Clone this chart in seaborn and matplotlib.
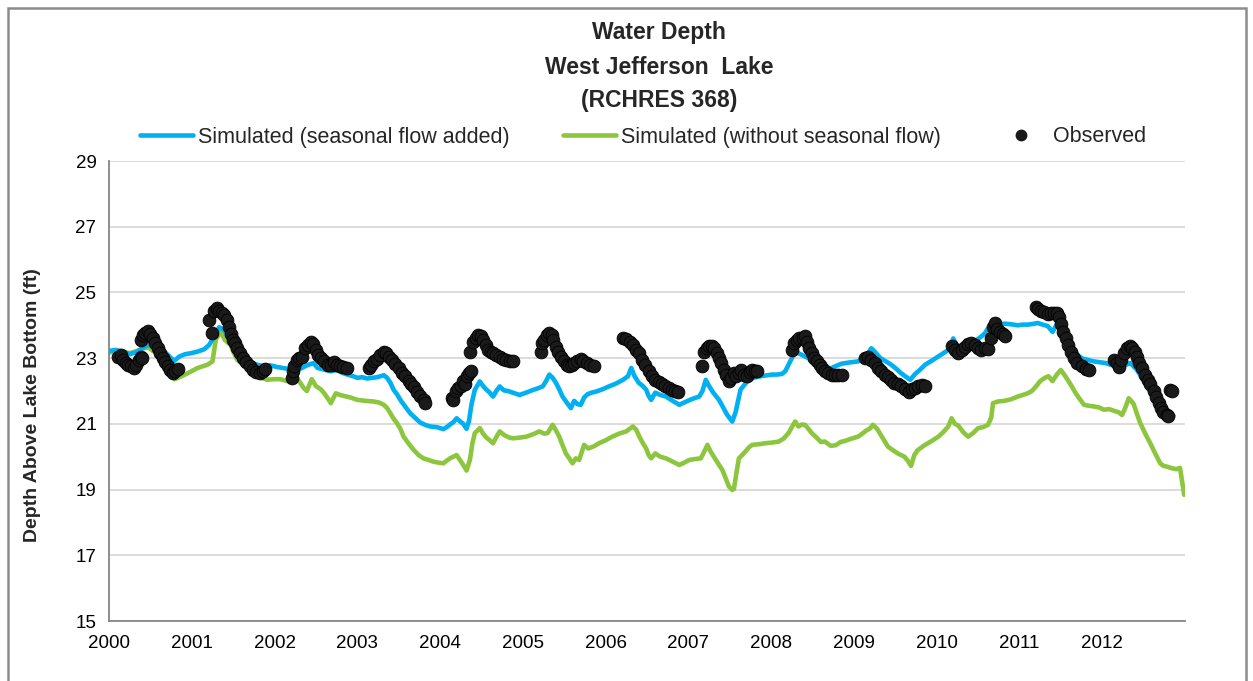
import matplotlib
matplotlib.use("Agg")
import matplotlib.pyplot as plt
from matplotlib.lines import Line2D
from matplotlib.patches import Rectangle
import seaborn as sns
import pandas as pd

# ---------------- data ----------------
added_year = [2000.00, 2000.08, 2000.17, 2000.25, 2000.33, 2000.40, 2000.47, 2000.55, 2000.62, 2000.69,
              2000.75, 2000.79, 2000.85, 2000.92, 2000.99, 2001.07, 2001.15, 2001.21, 2001.27, 2001.33,
              2001.39, 2001.47, 2001.53, 2001.59, 2001.65, 2001.71, 2001.79, 2001.87, 2001.95, 2002.03,
              2002.10, 2002.15, 2002.22, 2002.27, 2002.33, 2002.39, 2002.47, 2002.52, 2002.60, 2002.68,
              2002.75, 2002.82, 2002.88, 2002.95, 2003.00, 2003.06, 2003.12, 2003.18, 2003.24, 2003.32,
              2003.36, 2003.40, 2003.44, 2003.48, 2003.52, 2003.58, 2003.64, 2003.70, 2003.76, 2003.82,
              2003.88, 2003.96, 2004.04, 2004.08, 2004.12, 2004.16, 2004.20, 2004.24, 2004.28, 2004.32,
              2004.35, 2004.38, 2004.42, 2004.48, 2004.52, 2004.56, 2004.60, 2004.64, 2004.68, 2004.72,
              2004.77, 2004.82, 2004.88, 2004.96, 2005.04, 2005.12, 2005.18, 2005.24, 2005.28, 2005.32,
              2005.36, 2005.40, 2005.44, 2005.48, 2005.53, 2005.58, 2005.62, 2005.66, 2005.70, 2005.74,
              2005.78, 2005.83, 2005.88, 2005.96, 2006.04, 2006.12, 2006.21, 2006.27, 2006.31, 2006.35,
              2006.40, 2006.45, 2006.49, 2006.52, 2006.55, 2006.60, 2006.66, 2006.73, 2006.81, 2006.89,
              2006.95, 2007.01, 2007.07, 2007.13, 2007.17, 2007.21, 2007.25, 2007.30, 2007.37, 2007.42,
              2007.47, 2007.53, 2007.57, 2007.60, 2007.63, 2007.68, 2007.73, 2007.79, 2007.85, 2007.93,
              2008.01, 2008.07, 2008.13, 2008.17, 2008.21, 2008.25, 2008.29, 2008.33, 2008.37, 2008.45,
              2008.51, 2008.57, 2008.62, 2008.65, 2008.73, 2008.80, 2008.85, 2008.95, 2009.05, 2009.12,
              2009.17, 2009.21, 2009.25, 2009.32, 2009.40, 2009.45, 2009.51, 2009.57, 2009.62, 2009.68,
              2009.74, 2009.80, 2009.86, 2009.94, 2010.02, 2010.08, 2010.14, 2010.18, 2010.20, 2010.24,
              2010.30, 2010.36, 2010.42, 2010.48, 2010.54, 2010.58, 2010.62, 2010.68, 2010.75, 2010.82,
              2010.90, 2010.98, 2011.04, 2011.10, 2011.16, 2011.22, 2011.28, 2011.34, 2011.40, 2011.45,
              2011.50, 2011.54, 2011.58, 2011.62, 2011.67, 2011.72, 2011.77, 2011.82, 2011.90, 2011.98,
              2012.04, 2012.10, 2012.16, 2012.20, 2012.27, 2012.34, 2012.38, 2012.42, 2012.48, 2012.54,
              2012.60, 2012.66, 2012.72, 2012.78, 2012.86]
added_depth = [23.22, 23.25, 23.20, 23.12, 23.18, 23.30, 23.40, 23.35, 23.28, 23.15,
               23.00, 22.92, 23.05, 23.12, 23.15, 23.20, 23.27, 23.40, 23.66, 23.94,
               23.86, 23.56, 23.35, 23.15, 23.00, 22.85, 22.80, 22.75, 22.78, 22.73,
               22.70, 22.68, 22.66, 22.64, 22.70, 22.78, 22.85, 22.70, 22.65, 22.60,
               22.64, 22.55, 22.50, 22.45, 22.40, 22.42, 22.38, 22.40, 22.42, 22.48,
               22.40, 22.25, 22.03, 21.90, 21.73, 21.52, 21.32, 21.18, 21.04, 20.97,
               20.92, 20.90, 20.84, 20.90, 20.98, 21.05, 21.17, 21.08, 21.00, 20.85,
               21.10, 21.60, 22.04, 22.29, 22.15, 22.04, 21.95, 21.83, 22.00, 22.14,
               22.02, 22.00, 21.95, 21.88, 21.95, 22.03, 22.08, 22.14, 22.30, 22.50,
               22.40, 22.25, 22.05, 21.83, 21.65, 21.48, 21.70, 21.60, 21.58, 21.80,
               21.90, 21.95, 21.98, 22.05, 22.14, 22.22, 22.34, 22.45, 22.70, 22.45,
               22.25, 22.15, 22.04, 21.85, 21.73, 21.95, 21.88, 21.83, 21.70, 21.58,
               21.65, 21.72, 21.78, 21.83, 22.00, 22.34, 22.15, 21.95, 21.73, 21.50,
               21.27, 21.07, 21.35, 21.70, 22.04, 22.20, 22.34, 22.40, 22.44, 22.47,
               22.50, 22.50, 22.52, 22.60, 22.80, 23.00, 23.20, 23.15, 23.10, 23.00,
               22.85, 22.70, 22.62, 22.68, 22.70, 22.78, 22.83, 22.87, 22.90, 23.05,
               23.15, 23.30, 23.20, 23.00, 22.88, 22.80, 22.68, 22.54, 22.45, 22.34,
               22.52, 22.65, 22.80, 22.92, 23.05, 23.15, 23.25, 23.45, 23.60, 23.40,
               23.35, 23.40, 23.46, 23.55, 23.66, 23.75, 23.91, 23.98, 24.02, 24.05,
               24.03, 24.00, 24.02, 24.02, 24.04, 24.07, 24.02, 23.98, 23.80, 24.02,
               23.90, 23.70, 23.55, 23.36, 23.20, 23.05, 22.98, 22.95, 22.90, 22.87,
               22.85, 22.80, 22.76, 22.72, 22.78, 22.85, 22.75, 22.64, 22.40, 22.14,
               21.90, 21.63, 21.45, 21.27, 21.25]

base_year = [2000.00, 2000.08, 2000.17, 2000.25, 2000.35, 2000.42, 2000.47, 2000.53, 2000.60, 2000.65,
             2000.69, 2000.74, 2000.79, 2000.85, 2000.95, 2001.01, 2001.07, 2001.13, 2001.19, 2001.25,
             2001.29, 2001.35, 2001.40, 2001.47, 2001.51, 2001.55, 2001.61, 2001.67, 2001.75, 2001.83,
             2001.91, 2001.99, 2002.07, 2002.15, 2002.22, 2002.27, 2002.31, 2002.35, 2002.39, 2002.45,
             2002.50, 2002.56, 2002.60, 2002.65, 2002.68, 2002.74, 2002.79, 2002.84, 2002.92, 2003.00,
             2003.10, 2003.20, 2003.26, 2003.32, 2003.36, 2003.40, 2003.44, 2003.48, 2003.52, 2003.56,
             2003.62, 2003.68, 2003.74, 2003.80, 2003.86, 2003.92, 2003.98, 2004.04, 2004.08, 2004.12,
             2004.16, 2004.20, 2004.24, 2004.28, 2004.32, 2004.36, 2004.39, 2004.42, 2004.48, 2004.52,
             2004.56, 2004.60, 2004.64, 2004.68, 2004.72, 2004.78, 2004.84, 2004.88, 2004.96, 2005.04,
             2005.12, 2005.20, 2005.26, 2005.30, 2005.36, 2005.40, 2005.44, 2005.48, 2005.52, 2005.56,
             2005.60, 2005.64, 2005.68, 2005.74, 2005.79, 2005.86, 2005.92, 2006.00, 2006.08, 2006.16,
             2006.25, 2006.29, 2006.33, 2006.37, 2006.41, 2006.45, 2006.49, 2006.52, 2006.55, 2006.60,
             2006.66, 2006.73, 2006.81, 2006.89, 2006.95, 2007.01, 2007.08, 2007.15, 2007.19, 2007.23,
             2007.27, 2007.32, 2007.37, 2007.41, 2007.45, 2007.49, 2007.53, 2007.55, 2007.58, 2007.61,
             2007.65, 2007.69, 2007.73, 2007.77, 2007.85, 2007.93, 2008.01, 2008.09, 2008.15, 2008.21,
             2008.25, 2008.29, 2008.33, 2008.37, 2008.41, 2008.45, 2008.49, 2008.55, 2008.60, 2008.65,
             2008.72, 2008.78, 2008.84, 2008.89, 2008.97, 2009.05, 2009.10, 2009.15, 2009.19, 2009.23,
             2009.28, 2009.34, 2009.41, 2009.47, 2009.53, 2009.57, 2009.61, 2009.65, 2009.69, 2009.73,
             2009.77, 2009.86, 2009.94, 2010.02, 2010.08, 2010.14, 2010.18, 2010.22, 2010.26, 2010.32,
             2010.38, 2010.44, 2010.50, 2010.56, 2010.62, 2010.66, 2010.68, 2010.74, 2010.82, 2010.90,
             2010.98, 2011.04, 2011.10, 2011.15, 2011.20, 2011.25, 2011.30, 2011.35, 2011.40, 2011.45,
             2011.50, 2011.54, 2011.58, 2011.63, 2011.68, 2011.73, 2011.78, 2011.84, 2011.90, 2011.96,
             2012.02, 2012.08, 2012.14, 2012.20, 2012.24, 2012.28, 2012.32, 2012.35, 2012.38, 2012.42,
             2012.46, 2012.52, 2012.58, 2012.64, 2012.70, 2012.74, 2012.78, 2012.84, 2012.90, 2012.94,
             2012.99]
base_depth = [23.17, 23.20, 23.19, 23.15, 23.23, 23.30, 23.33, 23.22, 23.10, 22.95,
              22.75, 22.55, 22.36, 22.42, 22.54, 22.62, 22.70, 22.75, 22.80, 22.90,
              23.56, 23.81, 23.55, 23.40, 23.15, 22.95, 22.82, 22.70, 22.55, 22.42,
              22.34, 22.36, 22.36, 22.30, 22.45, 22.40, 22.25, 22.10, 22.00, 22.36,
              22.15, 22.05, 21.93, 21.75, 21.63, 21.93, 21.88, 21.85, 21.80, 21.73,
              21.70, 21.68, 21.65, 21.58, 21.48, 21.32, 21.15, 21.02, 20.85, 20.61,
              20.40, 20.21, 20.05, 19.95, 19.90, 19.85, 19.82, 19.80, 19.88, 19.95,
              20.00, 20.05, 19.90, 19.75, 19.58, 19.90, 20.40, 20.72, 20.87, 20.70,
              20.58, 20.50, 20.41, 20.60, 20.77, 20.65, 20.58, 20.56, 20.58, 20.61,
              20.68, 20.77, 20.70, 20.72, 20.97, 20.80, 20.61, 20.35, 20.10, 19.95,
              19.80, 19.95, 19.90, 20.36, 20.25, 20.32, 20.41, 20.50, 20.61, 20.70,
              20.77, 20.85, 20.92, 20.82, 20.60, 20.41, 20.25, 20.05, 19.95, 20.10,
              20.00, 19.95, 19.85, 19.75, 19.82, 19.90, 19.93, 19.95, 20.15, 20.36,
              20.15, 19.95, 19.75, 19.60, 19.35, 19.09, 18.99, 19.02, 19.50, 19.95,
              20.05, 20.16, 20.28, 20.36, 20.38, 20.41, 20.43, 20.46, 20.55, 20.72,
              20.90, 21.07, 20.92, 20.98, 20.97, 20.85, 20.72, 20.58, 20.45, 20.46,
              20.33, 20.35, 20.45, 20.48, 20.55, 20.61, 20.70, 20.80, 20.85, 20.97,
              20.85, 20.60, 20.31, 20.20, 20.10, 20.05, 20.00, 19.88, 19.72, 20.05,
              20.20, 20.36, 20.48, 20.61, 20.75, 20.92, 21.17, 21.00, 20.95, 20.75,
              20.61, 20.72, 20.87, 20.90, 20.97, 21.20, 21.63, 21.68, 21.70, 21.75,
              21.83, 21.88, 21.93, 22.00, 22.14, 22.30, 22.39, 22.45, 22.30, 22.50,
              22.64, 22.50, 22.35, 22.15, 21.93, 21.75, 21.58, 21.55, 21.53, 21.50,
              21.43, 21.45, 21.40, 21.35, 21.27, 21.50, 21.78, 21.70, 21.60, 21.30,
              21.02, 20.70, 20.41, 20.10, 19.80, 19.72, 19.70, 19.65, 19.62, 19.66,
              18.84]

obs_year = [2000.11, 2000.14, 2000.17, 2000.20, 2000.23, 2000.27, 2000.30, 2000.33, 2000.36, 2000.39, 2000.40,
            2000.39, 2000.41, 2000.44, 2000.47, 2000.50, 2000.53, 2000.56, 2000.59, 2000.62, 2000.65, 2000.68,
            2000.71, 2000.74, 2000.77, 2000.80, 2000.83,
            2001.25, 2001.21, 2001.27, 2001.30, 2001.33, 2001.36, 2001.39, 2001.42, 2001.45, 2001.47, 2001.50,
            2001.52, 2001.55, 2001.58, 2001.62, 2001.66, 2001.70, 2001.74, 2001.78, 2001.82, 2001.86, 2001.89,
            2002.21, 2002.22, 2002.24, 2002.27, 2002.30, 2002.33, 2002.37, 2002.40, 2002.44, 2002.47, 2002.50,
            2002.52, 2002.56, 2002.60, 2002.64, 2002.68, 2002.72, 2002.75, 2002.79, 2002.83, 2002.88,
            2003.14, 2003.17, 2003.20, 2003.24, 2003.28, 2003.32, 2003.35, 2003.38, 2003.42, 2003.46, 2003.50,
            2003.54, 2003.58, 2003.62, 2003.65, 2003.68, 2003.72, 2003.76, 2003.80, 2003.82,
            2004.14, 2004.16, 2004.19, 2004.22, 2004.25, 2004.28, 2004.30, 2004.32, 2004.35, 2004.37, 2004.36,
            2004.40, 2004.43, 2004.46, 2004.49, 2004.52, 2004.55, 2004.58, 2004.61, 2004.64, 2004.68, 2004.72,
            2004.76, 2004.80, 2004.84, 2004.88,
            2005.22, 2005.23, 2005.26, 2005.29, 2005.32, 2005.35, 2005.37, 2005.40, 2005.43, 2005.46, 2005.50,
            2005.53, 2005.56, 2005.59, 2005.62, 2005.66, 2005.70, 2005.73, 2005.77, 2005.81, 2005.86,
            2006.21, 2006.25, 2006.29, 2006.33, 2006.37, 2006.40, 2006.44, 2006.48, 2006.52, 2006.56, 2006.60,
            2006.64, 2006.68, 2006.72, 2006.76, 2006.80, 2006.84, 2006.87,
            2007.17, 2007.19, 2007.22, 2007.25, 2007.28, 2007.31, 2007.34, 2007.37, 2007.40, 2007.43, 2007.46,
            2007.49, 2007.52, 2007.55, 2007.58, 2007.61, 2007.64, 2007.67, 2007.71, 2007.74, 2007.77, 2007.80,
            2007.83,
            2008.25, 2008.28, 2008.31, 2008.34, 2008.38, 2008.41, 2008.43, 2008.46, 2008.49, 2008.52, 2008.55,
            2008.59, 2008.62, 2008.65, 2008.69, 2008.73, 2008.77, 2008.81, 2008.85,
            2009.13, 2009.17, 2009.21, 2009.25, 2009.29, 2009.33, 2009.37, 2009.41, 2009.45, 2009.49, 2009.53,
            2009.57, 2009.62, 2009.66, 2009.70, 2009.74, 2009.78, 2009.82, 2009.86,
            2010.18, 2010.22, 2010.26, 2010.30, 2010.34, 2010.38, 2010.42, 2010.46, 2010.50, 2010.54, 2010.58,
            2010.62, 2010.66, 2010.68, 2010.70, 2010.73, 2010.76, 2010.80, 2010.82,
            2011.20, 2011.23, 2011.26, 2011.30, 2011.34, 2011.38, 2011.42, 2011.45, 2011.48, 2011.50, 2011.53,
            2011.56, 2011.59, 2011.62, 2011.66, 2011.70, 2011.75, 2011.80, 2011.84,
            2012.14, 2012.18, 2012.20, 2012.23, 2012.26, 2012.30, 2012.33, 2012.36, 2012.39, 2012.42, 2012.45,
            2012.48, 2012.52, 2012.55, 2012.58, 2012.62, 2012.65, 2012.68, 2012.71, 2012.74, 2012.78, 2012.80,
            2012.82, 2012.84]
obs_depth = [23.05, 23.10, 22.95, 22.85, 22.80, 22.75, 22.70, 22.80, 22.95, 23.05, 23.00,
             23.55, 23.70, 23.78, 23.82, 23.75, 23.62, 23.45, 23.30, 23.15, 23.00, 22.88,
             22.75, 22.65, 22.56, 22.60, 22.68,
             23.76, 24.17, 24.45, 24.52, 24.45, 24.38, 24.30, 24.15, 23.95, 23.75, 23.55,
             23.45, 23.30, 23.15, 23.00, 22.88, 22.75, 22.65, 22.58, 22.55, 22.62, 22.68,
             22.40, 22.60, 22.75, 22.95, 23.00, 23.05, 23.30, 23.40, 23.50, 23.42, 23.25,
             23.10, 23.00, 22.90, 22.80, 22.78, 22.88, 22.80, 22.75, 22.72, 22.70,
             22.70, 22.80, 22.90, 22.98, 23.10, 23.20, 23.15, 23.05, 22.95, 22.82, 22.70,
             22.55, 22.45, 22.30, 22.22, 22.12, 21.98, 21.85, 21.72, 21.65,
             21.78, 21.72, 22.00, 22.08, 22.15, 22.30, 22.20, 22.45, 22.55, 22.60, 23.20,
             23.50, 23.62, 23.70, 23.68, 23.55, 23.40, 23.25, 23.18, 23.15, 23.10, 23.05,
             22.98, 22.95, 22.92, 22.90,
             23.20, 23.46, 23.55, 23.71, 23.76, 23.70, 23.55, 23.35, 23.20, 23.05, 22.90,
             22.80, 22.75, 22.80, 22.85, 22.90, 22.98, 22.92, 22.85, 22.80, 22.75,
             23.61, 23.58, 23.50, 23.40, 23.25, 23.15, 22.95, 22.80, 22.60, 22.45, 22.35,
             22.28, 22.22, 22.15, 22.08, 22.02, 22.00, 21.98,
             22.75, 23.20, 23.30, 23.36, 23.38, 23.30, 23.15, 23.00, 22.85, 22.65, 22.50,
             22.30, 22.40, 22.55, 22.45, 22.55, 22.65, 22.50, 22.45, 22.58, 22.65, 22.62,
             22.60,
             23.25, 23.45, 23.55, 23.60, 23.62, 23.66, 23.50, 23.30, 23.15, 23.00, 22.90,
             22.80, 22.70, 22.62, 22.55, 22.50, 22.48, 22.50, 22.48,
             23.00, 23.02, 22.95, 22.85, 22.70, 22.60, 22.50, 22.44, 22.35, 22.25, 22.20,
             22.14, 22.05, 21.98, 22.05, 22.10, 22.15, 22.18, 22.15,
             23.36, 23.25, 23.15, 23.25, 23.35, 23.42, 23.46, 23.40, 23.30, 23.25, 23.30,
             23.28, 23.60, 23.96, 24.07, 23.90, 23.80, 23.75, 23.66,
             24.57, 24.50, 24.45, 24.40, 24.35, 24.36, 24.38, 24.37, 24.25, 24.05, 23.80,
             23.60, 23.40, 23.20, 23.00, 22.85, 22.75, 22.68, 22.64,
             22.95, 22.85, 22.72, 22.95, 23.15, 23.30, 23.36, 23.30, 23.20, 23.05, 22.85,
             22.70, 22.50, 22.35, 22.20, 22.00, 21.83, 21.65, 21.48, 21.35, 21.27, 21.25,
             22.03, 22.00]

year_ticks = list(range(2000, 2013))
depth_ticks = [15, 17, 19, 21, 23, 25, 27, 29]

title_lines = ["Water Depth", "West Jefferson  Lake", "(RCHRES 368)"]
label_added = "Simulated (seasonal flow added)"
label_base = "Simulated (without seasonal flow)"
label_obs = "Observed"
ylabel = "Depth Above Lake Bottom (ft)"

# ---------------- style ----------------
sns.set_theme(style="white")
plt.rcParams["font.family"] = ["Liberation Sans", "DejaVu Sans"]

BLUE = "#00B0F0"
GREEN = "#8CC63E"
GRID = "#D9D9D9"
AXC = "#868686"

fig = plt.figure(figsize=(12.53, 6.81), dpi=100)
ax = fig.add_axes([109 / 1253, 1 - 621 / 681, (1185 - 109) / 1253, (621 - 161) / 681])

df_a = pd.DataFrame({"year": added_year, "depth": added_depth})
df_b = pd.DataFrame({"year": base_year, "depth": base_depth})
df_o = pd.DataFrame({"year": obs_year, "depth": obs_depth})

sns.lineplot(data=df_b, x="year", y="depth", ax=ax, color=GREEN, lw=3.3,
             estimator=None, sort=False, zorder=2)
sns.lineplot(data=df_a, x="year", y="depth", ax=ax, color=BLUE, lw=3.3,
             estimator=None, sort=False, zorder=3)
sns.scatterplot(data=df_o, x="year", y="depth", ax=ax, color="#1a1a1a", s=85,
                edgecolor="#000000", linewidth=0.6, zorder=4)

ax.set_xlim(2000, 2013)
ax.set_ylim(15, 29)
ax.set_xticks(year_ticks)
ax.set_xticklabels([str(y) for y in year_ticks])
ax.set_yticks(depth_ticks)
ax.set_yticklabels([str(d) for d in depth_ticks])
ax.set_xlabel("")
ax.set_ylabel("")
ax.grid(axis="y", color=GRID, lw=1.3, zorder=0)
ax.grid(axis="x", visible=False)
for s in ["top", "right"]:
    ax.spines[s].set_visible(False)
for s in ["left", "bottom"]:
    ax.spines[s].set_color(AXC)
    ax.spines[s].set_linewidth(1.3)
ax.tick_params(axis="both", which="major", direction="out", color=AXC,
               labelsize=13.5, labelcolor="black")
ax.tick_params(axis="x", length=5, width=1, pad=5)
ax.tick_params(axis="y", length=5, width=1, pad=4)

# titles
cx = 659 / 1253
for txt, ypx in zip(title_lines, [33, 67, 100]):
    fig.text(cx, 1 - ypx / 681, txt, ha="center", va="center",
             fontsize=16.5, fontweight="bold")

fig.text(33 / 1253, 1 - 405 / 681, ylabel, rotation=90, ha="center", va="center",
         fontsize=14, fontweight="bold")

handles = [Line2D([0], [0], color=BLUE, lw=3.3),
           Line2D([0], [0], color=GREEN, lw=3.3),
           Line2D([0], [0], color="#1a1a1a", lw=0, marker="o", markersize=7.5)]
fig.legend(handles, [label_added, label_base, label_obs], loc="center",
           bbox_to_anchor=(643 / 1253, 1 - 137 / 681), ncol=3, frameon=False,
           fontsize=15.5, handlelength=2.45, handletextpad=0.23,
           columnspacing=2.5, borderaxespad=0)

# outer frame
fig.patches.append(Rectangle((8 / 1253, -0.05), (1246 - 8) / 1253, 1 - 8 / 681 + 0.05,
                             transform=fig.transFigure, fill=False,
                             edgecolor="#8c8c8c", lw=1.8, zorder=10))

fig.savefig("out.png", dpi=100)
